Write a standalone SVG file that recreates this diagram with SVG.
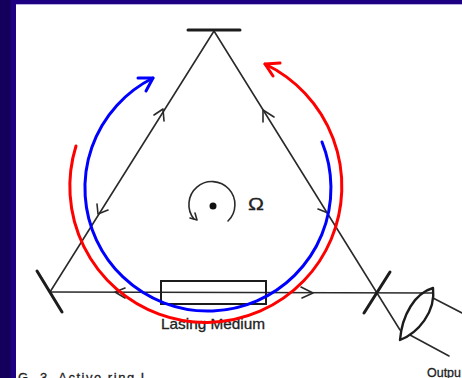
<svg xmlns="http://www.w3.org/2000/svg" width="462" height="378" viewBox="0 0 462 378">
<style>
.ink{fill:none;stroke:#2a2a2a;stroke-width:1.6;stroke-linecap:round;stroke-linejoin:round}
.mirror{fill:none;stroke:#1c1c1c;stroke-width:3;stroke-linecap:round}
.lens{fill:none;stroke:#1c1c1c;stroke-width:2.4;stroke-linejoin:round;stroke-linecap:round}
.red{fill:none;stroke:#ff0000;stroke-width:3;stroke-linecap:round;stroke-linejoin:round}
.blue{fill:none;stroke:#0000ff;stroke-width:3;stroke-linecap:round;stroke-linejoin:round}
.t{font-family:"Liberation Sans",Arial,sans-serif;fill:#222;stroke:#222;stroke-width:0.3}
</style>
<rect width="462" height="378" fill="#ffffff"/>
<g id="frame">
<rect x="0" y="0" width="462" height="4" fill="#1e0082"/>
<rect x="0" y="0" width="16" height="378" fill="#1e0082"/>
<rect x="0" y="0" width="11" height="378" fill="#14005c"/>
<rect x="16" y="4" width="446" height="1" fill="#b8b0e0"/>
</g>
<g id="connectors">
<path class="ink" d="M214 31L50 292"/>
<path class="ink" d="M214 31L400 330"/>
<path class="ink" d="M50 292L433 293"/>
<path class="ink" d="M433 298L462 313"/>
<path class="ink" d="M410 335L449 356"/>
<path class="ink" d="M154 115L163 109L164 121"/>
<path class="ink" d="M263 122L263 110L274 117"/>
<path class="ink" d="M97 204L98 214L108 210"/>
<path class="ink" d="M318 209L328 213"/>
<path class="ink" d="M125 288L115 292L125 298"/>
<path class="ink" d="M301 287L313 293L302 298"/>
</g>
<g id="mirror-top"><path class="mirror" d="M188 30H240"/></g>
<g id="mirror-left"><path class="mirror" d="M37 271L62 312"/></g>
<g id="mirror-right"><path class="mirror" d="M390 272L364 313"/></g>
<g id="lens"><path class="lens" d="M433 288C415 293 402 315 400 340C418 333 436 312 433 288Z"/></g>
<g id="lasing-medium">
<rect x="161" y="281" width="105" height="23" fill="none" stroke="#1c1c1c" stroke-width="2"/>
<text class="t" x="161" y="329" font-size="14.2" textLength="104" lengthAdjust="spacingAndGlyphs">Lasing Medium</text>
</g>
<g id="rotation">
<path class="ink" stroke-width="2" d="M228 221A23 23 0 1 0 194 219"/>
<path class="ink" stroke-width="2" d="M190 218L197 220L195 213"/>
<circle cx="213" cy="206" r="3.5" fill="#111"/>
<text class="t" x="248" y="210" font-size="17" textLength="16" lengthAdjust="spacingAndGlyphs">Ω</text>
</g>
<g id="red-beam">
<path class="red" d="M76 146A136 136 0 1 0 265 64"/>
<path class="red" d="M280 63L265 64L273 76"/>
</g>
<g id="blue-beam">
<path class="blue" d="M322 142A123 123 0 1 1 153 78"/>
<path class="blue" d="M138 78L153 78L146 91"/>
</g>
<g id="output-label"><text class="t" x="427" y="377" font-size="13" textLength="34" lengthAdjust="spacingAndGlyphs">Outpu</text></g>
<g id="caption"><text class="t" x="18" y="382" font-size="13" textLength="130" lengthAdjust="spacing">G. 3.  Active ring L</text></g>
</svg>
